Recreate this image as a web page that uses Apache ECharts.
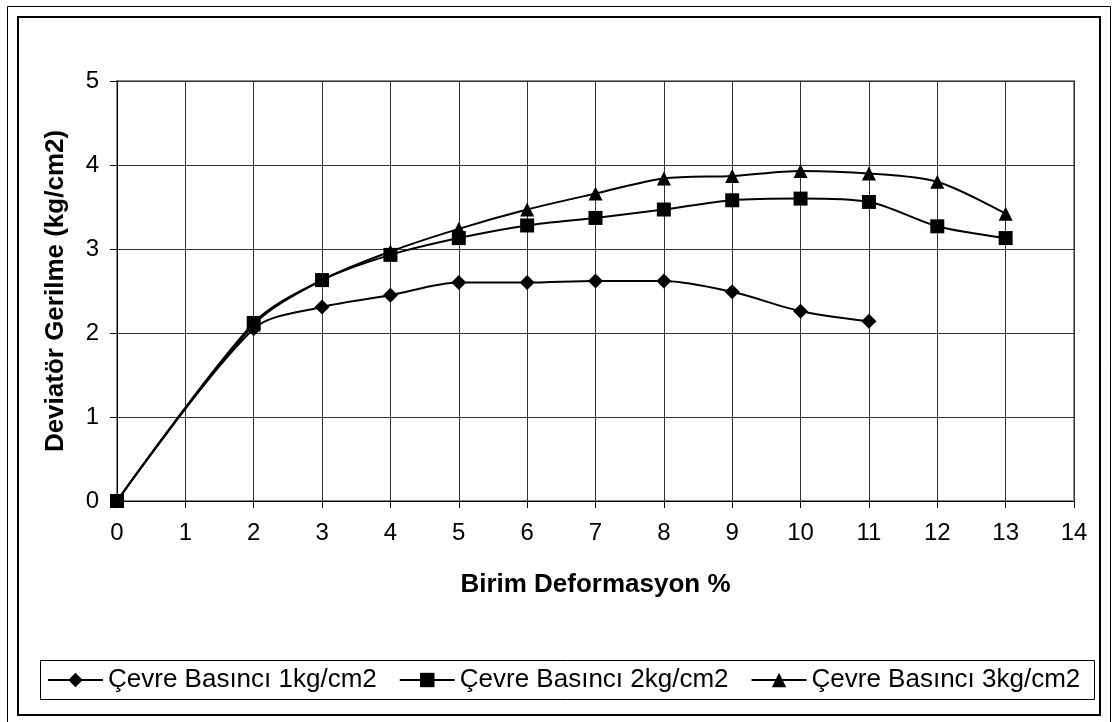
<!DOCTYPE html>
<html style="height: 100%">
   <head>
       <meta charset="utf-8">
   </head>
   <body style="height: 100%; margin: 0; background: #fff">
       <div id="container" style="width: 1115px; height: 722px"></div>
       <script type="text/javascript" src="https://cdn.jsdelivr.net/npm/echarts@6/dist/echarts.min.js"></script>
       <script type="text/javascript">
var dom = document.getElementById("container");
var myChart = echarts.init(dom);
var option = null;

// Birim deformasyon (%) - x values
var strain1 = [0, 2, 3, 4, 5, 6, 7, 8, 9, 10, 11];
var strain23 = [0, 2, 3, 4, 5, 6, 7, 8, 9, 10, 11, 12, 13];
// Deviatör gerilme (kg/cm2)
var stress1 = [0, 2.05, 2.31, 2.45, 2.60, 2.60, 2.62, 2.62, 2.49, 2.26, 2.14];
var stress2 = [0, 2.12, 2.63, 2.93, 3.13, 3.28, 3.37, 3.47, 3.58, 3.60, 3.56, 3.27, 3.13];
var stress3 = [0, 2.10, 2.63, 2.97, 3.24, 3.47, 3.66, 3.84, 3.87, 3.93, 3.90, 3.80, 3.42];
var names = ['Çevre Basıncı 1kg/cm2', 'Çevre Basıncı 2kg/cm2', 'Çevre Basıncı 3kg/cm2'];

function pairs(xs, ys) {
    return xs.map(function (x, i) { return [x, ys[i]]; });
}

var font = 'Liberation Sans, Arial, sans-serif';

function lineSeries(name, data, symbol, size) {
    return {
        name: name,
        type: 'line',
        smooth: 0.3,
        symbol: symbol,
        symbolSize: size,
        data: data,
        lineStyle: {color: '#000', width: 2},
        itemStyle: {color: '#000'},
        emphasis: {disabled: true}
    };
}

option = {
    animation: false,
    backgroundColor: '#fff',
    textStyle: {fontFamily: font},
    graphic: [
        {type: 'rect', shape: {x: 7.5, y: 6.5, width: 1103, height: 720}, style: {fill: 'none', stroke: '#000', lineWidth: 1}},
        {type: 'rect', shape: {x: 18, y: 17, width: 1082, height: 698}, style: {fill: 'none', stroke: '#000', lineWidth: 2}},
        {type: 'rect', shape: {x: 40.5, y: 660.5, width: 1054, height: 39}, style: {fill: 'none', stroke: '#000', lineWidth: 1}}
    ],
    legend: {
        left: 47,
        top: 666,
        padding: 0,
        itemWidth: 55,
        itemHeight: 18,
        itemGap: 22,
        lineStyle: {width: 2, color: '#000'},
        textStyle: {fontSize: 26, lineHeight: 28, color: '#000', fontFamily: font},
        data: names
    },
    grid: {
        left: 117,
        top: 81,
        width: 957,
        height: 420,
        show: true,
        borderColor: '#888',
        borderWidth: 2
    },
    xAxis: {
        type: 'value',
        min: 0,
        max: 14,
        interval: 1,
        name: 'Birim Deformasyon %',
        nameLocation: 'middle',
        nameGap: 71,
        nameTextStyle: {fontSize: 26, fontWeight: 'bold', color: '#000', fontFamily: font},
        axisLine: {onZero: false, lineStyle: {color: '#000', width: 1}},
        axisTick: {show: true, length: 7, lineStyle: {color: '#000'}},
        axisLabel: {fontSize: 24, color: '#000', margin: 20, fontFamily: font},
        splitLine: {show: true, lineStyle: {color: '#333', width: 1}}
    },
    yAxis: {
        type: 'value',
        min: 0,
        max: 5,
        interval: 1,
        name: 'Deviatör Gerilme (kg/cm2)',
        nameLocation: 'middle',
        nameGap: 48,
        nameTextStyle: {fontSize: 26, fontWeight: 'bold', color: '#000', fontFamily: font},
        axisLine: {show: true, onZero: false, lineStyle: {color: '#000', width: 1}},
        axisTick: {show: true, length: 7, lineStyle: {color: '#000'}},
        axisLabel: {fontSize: 24, color: '#000', margin: 18, fontFamily: font},
        splitLine: {show: true, lineStyle: {color: '#333', width: 1}}
    },
    series: [
        lineSeries(names[0], pairs(strain1, stress1), 'diamond', 15),
        lineSeries(names[1], pairs(strain23, stress2), 'rect', 14),
        lineSeries(names[2], pairs(strain23, stress3), 'triangle', 14)
    ]
};

if (option && typeof option === "object") {
    myChart.setOption(option, true);
}
       </script>
   </body>
</html>
